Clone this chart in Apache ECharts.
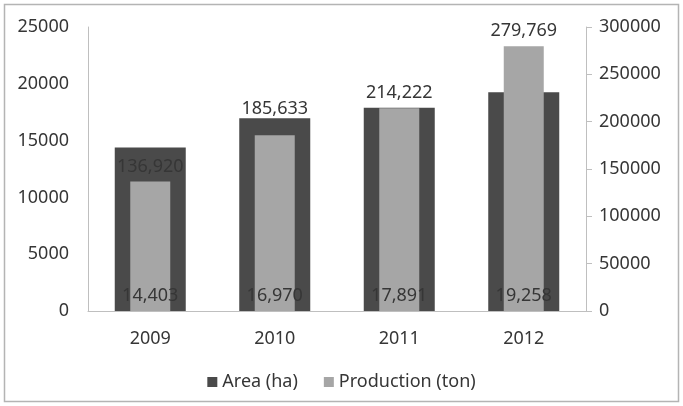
<!DOCTYPE html>
<html>
<head>
<meta charset="utf-8">
<script src="https://cdn.jsdelivr.net/npm/echarts@6/dist/echarts.min.js"></script>
<style>
  html, body { margin: 0; padding: 0; background: #fff; }
  #chart { width: 683px; height: 406px; }
</style>
</head>
<body>
<div id="chart"></div>
<script>
// 연도별 면적 / 생산량
const years = ['2009', '2010', '2011', '2012']
const areaHa = [14403, 16970, 17891, 19258]
const productionTon = [136920, 185633, 214222, 279769]

const FONT = '"Noto Sans", "DejaVu Sans", sans-serif'
const TEXT = '#363636'
const AXIS = '#bfbfbf'
const FS = 18

const fmt = (v) => Number(v).toLocaleString('en-US')

const chart = echarts.init(document.getElementById('chart'), null, { renderer: 'canvas' })

const option = {
  backgroundColor: '#fff',
  animation: false,
  textStyle: { fontFamily: FONT },
  graphic: [
    {
      type: 'rect',
      shape: { x: 4.5, y: 4.5, width: 674, height: 397 },
      style: { fill: 'none', stroke: '#b4b4b4', lineWidth: 1.5 },
      silent: true,
    },
  ],
  grid: { left: 88, right: 97, top: 27, bottom: 95 },
  legend: {
    bottom: 10,
    left: 'center',
    itemWidth: 10,
    itemHeight: 10,
    itemGap: 26,
    icon: 'rect',
    textStyle: { color: TEXT, fontSize: FS, fontFamily: FONT },
    data: ['Area (ha)', 'Production (ton)'],
  },
  xAxis: [
    {
      type: 'category',
      data: years,
      axisLine: { lineStyle: { color: AXIS } },
      axisTick: { show: false },
      axisLabel: { color: TEXT, fontSize: FS, margin: 19 },
    },
    {
      type: 'category',
      data: years,
      show: false,
    },
  ],
  yAxis: [
    {
      type: 'value',
      min: 0,
      max: 25000,
      interval: 5000,
      splitLine: { show: false },
      axisLine: { show: true, lineStyle: { color: AXIS } },
      axisTick: { show: false },
      axisLabel: { color: TEXT, fontSize: FS, margin: 19, formatter: (v) => String(v) },
    },
    {
      type: 'value',
      position: 'right',
      min: 0,
      max: 300000,
      interval: 50000,
      splitLine: { show: false },
      axisLine: { show: true, lineStyle: { color: AXIS } },
      axisTick: { show: true, inside: false, length: 6, lineStyle: { color: AXIS } },
      axisLabel: { color: TEXT, fontSize: FS, margin: 13, formatter: (v) => String(v) },
    },
  ],
  series: [
    {
      name: 'Area (ha)',
      type: 'bar',
      xAxisIndex: 0,
      yAxisIndex: 0,
      barWidth: 71,
      data: areaHa,
      itemStyle: { color: '#4a4a4a' },
      label: {
        show: true,
        position: 'insideBottom',
        distance: 6,
        color: TEXT,
        fontSize: FS,
        formatter: (p) => fmt(p.value),
      },
    },
    {
      name: 'Production (ton)',
      type: 'bar',
      xAxisIndex: 1,
      yAxisIndex: 1,
      barWidth: 40,
      // 2010 라벨은 원본에서 조금 더 위에 있음
      data: productionTon.map((v, i) => (i === 1 ? { value: v, label: { offset: [0, -11] } } : v)),
      itemStyle: { color: '#a6a6a6' },
      label: {
        show: true,
        position: 'top',
        distance: 6,
        color: TEXT,
        fontSize: FS,
        formatter: (p) => fmt(p.value),
      },
    },
  ],
}

chart.setOption(option)
</script>
</body>
</html>
